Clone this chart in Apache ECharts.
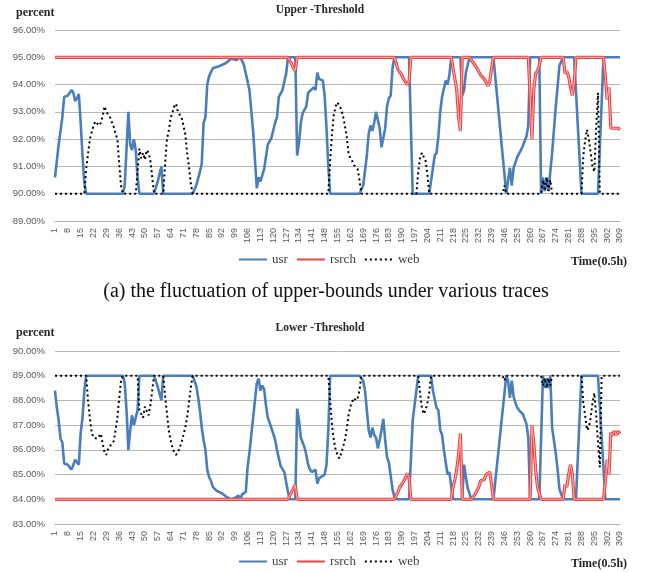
<!DOCTYPE html>
<html><head><meta charset="utf-8">
<script src="https://cdn.jsdelivr.net/npm/echarts@6/dist/echarts.min.js"></script>
<style>html,body{margin:0;padding:0;background:#fff}#c{width:650px;height:572px}</style>
</head><body><div id="c"></div>
<script>
// x categories 1..309 (half-hour steps)
const categories = Array.from({length: 309}, (_, i) => String(i + 1));
const upperTicks = [89, 90, 91, 92, 93, 94, 95, 96];
const lowerTicks = [83, 84, 85, 86, 87, 88, 89, 90];
const seriesNames = ['usr', 'rsrch', 'web'];

// [time index, percent]
const upperUsr = [
[1,90.6],[3,91.8],[5,92.8],[6,93.55],[8,93.6],[10,93.8],[11,93.7],[12,93.4],[13,93.5],[14,93.65],[15,92.6],[16,91.4],[17,90.4],[18,90],
[38,90],[39,90.3],[41,93.0],[42,91.8],[43,91.6],[44,92.0],[45,91.6],[46,90.6],[47,90],
[55,90],[57,90.45],[59,91.0],[60,90],
[76,90],[78,90.3],[80,90.8],[81,91.1],[82,92.6],[83,92.8],[84,94.0],[85,94.3],[87,94.6],[90,94.66],[94,94.78],[97,94.95],[98,95.0],[100,94.9],[102,95.0],[104,94.72],[105,94.66],[107,93.8],[109,92.3],[111,90.2],[112,90.6],[113,90.45],[114,90.4],[115,90.9],[117,91.8],[119,92.05],[121,92.6],[122,92.8],[123,93.55],[125,93.8],[127,94.4],[128,95],[132,95],[133,91.4],[134,91.85],[135,92.6],[136,92.95],[138,93.2],[139,93.7],[142,93.9],[143,93.8],[144,94.44],[145,94.2],[147,94.15],[148,93.6],[149,92.4],[150,91.0],[151,90],
[167,90],[169,90.3],[171,91.4],[172,92.2],[173,92.5],[174,92.3],[175,92.6],[176,93.0],[178,92.4],[179,91.7],[181,92.4],[182,93.2],[183,93.5],[184,93.6],[185,94.6],[186,95],[194,95],[196,90],
[205,90],[208,91.4],[209,91.5],[210,92.1],[211,93.0],[212,93.55],[214,94.15],[215,94.0],[216,94.35],[217,95],[222,95],[223,93.6],[224,93.8],[225,94.45],[227,95],[240,95],[247,90],
[248,90.5],[249,90.95],[250,90.3],[251,90.95],[253,91.35],[254,91.4],[255,91.6],[256,91.75],[258,92.1],[259,92.5],[260,95],[265,95],[266,90],
[267,90.6],[268,90.1],[269,90.6],[270,90.1],[272,91.5],[274,93.2],[276,94.7],[277,94.75],[278,95],[284,95],[288,90],[297,90],[300,95],[309,95]
];
const upperRsrch = [
[1,95],[128,95],[130,94.75],[131,94.6],[132,94.5],[133,95],
[186,95],[188,94.55],[190,94.35],[191,94.2],[193,94.0],[194,94.1],[195,95],
[217,95],[219,94.2],[220,93.8],[221,92.8],[222,92.3],[223,95],
[227,95],[229,94.8],[231,94.6],[233,94.35],[235,94.2],[236,94.15],[237,93.95],[238,94.1],[239,94.6],[240,95],
[259,95],[260,93.6],[261,92.0],[262,93.8],[263,94.4],[264,94.5],[265,94.7],[266,95],
[278,95],[279,94.4],[280,94.5],[281,94.3],[282,93.9],[283,93.6],[284,94.05],[285,95],
[300,95],[301,94.3],[302,93.45],[303,93.9],[304,92.4],[305,92.45],[306,92.4],[307,92.35],[308,92.4],[309,92.35]
];
const upperWeb = [
[1,90],[17,90],[18,90.9],[20,92.0],[22,92.5],[23,92.65],[25,92.5],[26,92.6],[27,92.85],[28,93.2],[29,93.0],[31,92.8],[32,92.75],[33,92.45],[34,92.2],[35,92.0],[36,91.1],[37,90.3],[38,90],
[45,90],[46,90.8],[47,91.65],[48,91.3],[49,91.5],[50,91.25],[51,91.6],[52,91.5],[53,91.2],[54,90.6],[55,90],
[60,90],[61,91.1],[62,92.0],[63,92.3],[64,92.75],[66,93.2],[67,93.3],[68,93.0],[70,92.8],[72,92.2],[73,91.5],[74,91.0],[75,90.4],[76,90],
[150,90],[151,91.2],[152,92.2],[153,92.9],[154,93.2],[155,93.35],[156,93.3],[157,93.1],[158,92.85],[159,92.5],[160,92.1],[161,91.5],[162,91.3],[163,91.2],[164,91.05],[165,91.1],[166,90.9],[167,90.5],[168,90],
[198,90],[199,90.8],[200,91.3],[201,91.5],[202,91.55],[203,91.2],[204,90.7],[205,90],
[245,90],[246,90.3],[247,90],
[266,90],[267,90.5],[268,90.1],[269,90.6],[270,90.1],[271,90.5],[272,90],
[288,90],[289,91.4],[290,91.95],[291,92.35],[292,92.0],[293,91.5],[294,91.0],[295,90.8],[296,92.4],[297,93.7],[298,90],[309,90]
];

const lowerUsr = [
[1,88.4],[2,87.7],[3,87.2],[4,86.45],[5,86.3],[6,85.45],[7,85.4],[8,85.4],[10,85.2],[11,85.4],[12,85.6],[14,85.4],[15,86.7],[16,87.3],[17,88.4],[18,89],
[38,89],[39,88.7],[40,87.6],[41,86.0],[42,86.8],[43,87.4],[44,87.0],[45,87.05],[46,87.6],[47,89],
[55,89],[57,88.55],[59,88.0],[60,89],
[76,89],[78,88.6],[79,88.15],[80,87.6],[81,86.9],[82,86.4],[83,86.0],[84,85.2],[85,84.9],[86,84.75],[87,84.5],[89,84.35],[92,84.24],[94,84.12],[97,84.0],[99,84.05],[101,84.15],[102,84.0],[103,84.2],[105,84.3],[106,85.3],[107,85.9],[108,86.6],[110,88.0],[111,88.7],[112,88.88],[113,88.4],[114,88.6],[115,88.45],[116,87.8],[117,87.3],[118,87.1],[120,86.65],[121,86.4],[122,86.0],[124,85.35],[126,85.1],[127,84.7],[128,84.3],[129,84.0],[132,84.0],[133,87.67],[134,87.2],[135,86.5],[136,86.3],[137,86.1],[138,85.8],[139,85.4],[140,85.2],[141,85.1],[142,85.05],[143,85.2],[144,84.64],[145,84.85],[146,84.84],[148,85.0],[149,85.4],[150,86.8],[151,89],
[167,89],[169,88.8],[170,88.4],[171,87.6],[172,86.8],[173,86.5],[174,86.9],[175,86.6],[176,86.5],[177,86.06],[178,86.4],[180,87.25],[181,86.4],[182,85.7],[183,85.5],[184,85.45],[185,84.4],[186,84.1],[187,84.0],[194,84.0],[196,87.2],[198,88.4],[199,89],
[206,89],[207,88.4],[209,87.7],[210,87.6],[211,86.8],[212,86.6],[213,86.0],[214,85.5],[215,85.0],[216,85.1],[217,84.5],[218,84.0],[223,84.0],[224,85.4],[225,84.9],[226,84.45],[228,84.0],[240,84.0],[247,89],
[248,88.8],[249,88.1],[250,88.8],[251,88.15],[252,87.9],[253,87.7],[254,87.6],[255,87.65],[256,87.45],[258,87.05],[259,86.5],[260,84.0],[265,84.0],[267,89],
[268,88.5],[269,88.9],[270,88.5],[271,89],[272,86.9],[274,85.85],[275,85.2],[276,84.4],[278,84.0],[285,84.0],[288,89],[297,89],[301,84],[309,84]
];
const lowerRsrch = [
[1,84],[128,84],[130,84.3],[131,84.45],[132,84.57],[133,84],
[186,84],[188,84.3],[189,84.5],[190,84.6],[191,84.65],[192,84.85],[193,85.05],[194,84.9],[195,84],
[217,84],[218,84.5],[219,84.8],[220,85.2],[221,85.8],[222,86.66],[223,84],
[228,84],[230,84.2],[232,84.5],[233,84.75],[235,84.8],[236,85.0],[237,85.05],[238,85.1],[239,84.6],[240,84],
[260,84],[261,87.0],[262,86.3],[263,85.2],[264,84.5],[265,84.45],[266,84],
[278,84],[279,84.6],[280,84.5],[281,85.0],[282,85.4],[283,85.05],[284,84],
[300,84],[301,84.7],[302,85.6],[303,85.0],[304,86.7],[305,86.6],[306,86.75],[307,86.6],[308,86.75],[309,86.65]
];
const lowerWeb = [
[1,89],[18,89],[19,88.0],[20,87.3],[21,86.7],[22,86.5],[24,86.45],[25,86.45],[26,86.65],[27,86.25],[28,85.9],[29,85.8],[30,86.05],[32,86.25],[33,86.35],[34,86.8],[35,87.3],[36,88.1],[37,88.8],[38,89],
[46,89],[47,87.6],[48,87.45],[49,87.3],[50,87.75],[51,87.7],[52,87.4],[53,87.8],[54,88.4],[55,89],
[60,89],[61,88.2],[62,87.5],[63,86.8],[64,86.4],[65,86.1],[66,85.9],[67,85.8],[68,85.9],[69,86.1],[70,86.3],[71,86.6],[72,86.9],[73,87.3],[74,87.9],[75,88.5],[76,89],
[150,89],[151,88.0],[152,87.0],[153,86.4],[154,86.0],[155,85.8],[156,85.65],[157,85.85],[158,86.1],[159,86.4],[160,86.8],[161,87.4],[162,87.75],[163,87.95],[164,88.1],[165,88.0],[166,88.1],[167,88.4],[168,89],
[199,89],[200,88.3],[201,87.7],[202,87.45],[203,87.6],[204,87.9],[205,88.3],[206,89],
[245,89],[246,88.8],[247,89],
[266,89],[267,88.6],[268,88.9],[269,88.5],[270,88.9],[271,88.6],[272,89],
[288,89],[289,87.9],[290,87.4],[291,86.8],[292,86.9],[293,87.3],[294,87.9],[295,88.3],[296,87.4],[297,86.3],[298,85.3],[299,89],[309,89]
];

const toData = pts => pts.map(p => [p[0] - 1, p[1]]);
const SERIF = "'Liberation Serif', 'DejaVu Serif', serif";
const SANS = "'Liberation Sans', Arial, sans-serif";

function xAxisFor(g) {
  return {
    type: 'category', gridIndex: g, data: categories, boundaryGap: false,
    axisLine: {show: true, lineStyle: {color: '#b0b0b0', width: 1}},
    axisTick: {show: false},
    axisLabel: {interval: 6, rotate: 90, fontSize: 9, color: '#595959', fontFamily: SANS, margin: 7},
    splitLine: {show: false}
  };
}
function yAxisFor(g, ticks) {
  return {
    type: 'value', gridIndex: g, min: ticks[0], max: ticks[ticks.length - 1], interval: 1,
    axisLine: {show: false}, axisTick: {show: false},
    axisLabel: {formatter: v => v.toFixed(2) + '%', fontSize: 9.5, color: '#595959', fontFamily: SANS, margin: 10},
    splitLine: {show: true, lineStyle: {color: '#b8b8b8', width: 1}}
  };
}
function seriesFor(g, usr, rsrch, web) {
  const base = {type: 'line', xAxisIndex: g, yAxisIndex: g, symbol: 'none', showSymbol: false, animation: false, silent: true};
  return [
    Object.assign({}, base, {name: 'usr', data: toData(usr), lineStyle: {color: '#4a7ebb', width: 2.6}, itemStyle: {color: '#4a7ebb'}}),
    Object.assign({}, base, {name: 'rsrch', data: toData(rsrch), lineStyle: {color: '#ee4444', width: 3.2}, itemStyle: {color: '#ee4444'}}),
    Object.assign({}, base, {name: 'rsrch-core', data: toData(rsrch), lineStyle: {color: '#f9b4b4', width: 1}, itemStyle: {color: '#f9b4b4'}}),
    Object.assign({}, base, {name: 'web', data: toData(web), lineStyle: {color: '#000000', width: 2, type: [2, 3]}, itemStyle: {color: '#000000'}})
  ];
}
function legendFor(top) {
  return {
    data: seriesNames, left: 233, top: top, itemWidth: 28, itemHeight: 12, itemGap: 8,
    itemStyle: {opacity: 0, borderWidth: 0},
    textStyle: {fontFamily: SERIF, fontSize: 13, color: '#404040'}, selectedMode: false
  };
}
function txt(text, x, y, font, align, color) {
  return {type: 'text', x: x, y: y, silent: true,
    style: {text: text, font: font, fill: color || '#262626', textAlign: align || 'left', textVerticalAlign: 'middle'}};
}

const chart = echarts.init(document.getElementById('c'), null, {renderer: 'canvas'});
chart.setOption({
  animation: false,
  backgroundColor: '#ffffff',
  grid: [
    {left: 55, top: 30, width: 565, height: 191},
    {left: 55, top: 351, width: 565, height: 173}
  ],
  xAxis: [xAxisFor(0), xAxisFor(1)],
  yAxis: [yAxisFor(0, upperTicks), yAxisFor(1, lowerTicks)],
  legend: [legendFor(248), legendFor(550)],
  series: seriesFor(0, upperUsr, upperRsrch, upperWeb).concat(seriesFor(1, lowerUsr, lowerRsrch, lowerWeb)),
  graphic: [
    txt('percent', 16, 13, 'bold 12px ' + SERIF),
    txt('Upper -Threshold', 320, 10, 'bold 11.5px ' + SERIF, 'center'),
    txt('Time(0.5h)', 571, 262, 'bold 12px ' + SERIF),
    txt('(a) the fluctuation of upper-bounds under various traces', 326, 292, '20px ' + SERIF, 'center', '#111'),
    txt('percent', 16, 333, 'bold 12px ' + SERIF),
    txt('Lower -Threshold', 320, 328, 'bold 11.5px ' + SERIF, 'center'),
    txt('Time(0.5h)', 571, 564, 'bold 12px ' + SERIF)
  ]
});
</script>
</body></html>
